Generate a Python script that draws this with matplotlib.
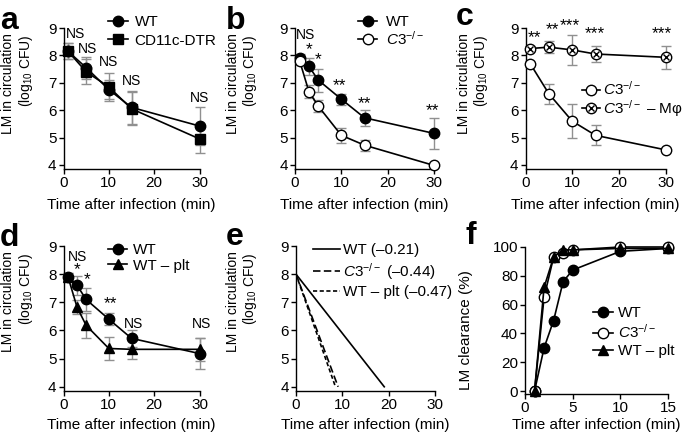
import matplotlib.pyplot as plt
from matplotlib.legend_handler import HandlerTuple

plt.rcParams['font.family'] = ['Liberation Sans', 'DejaVu Sans']
plt.rcParams['mathtext.fontset'] = 'custom'
plt.rcParams['mathtext.rm'] = 'Liberation Sans'
plt.rcParams['mathtext.it'] = 'Liberation Sans:italic'
plt.rcParams['font.size'] = 11

# ---- data ----
# a: WT vs CD11c-DTR
t_a = [1, 5, 10, 15, 30]
a_wt = [8.15, 7.55, 6.75, 6.1, 5.42]
a_wt_err = [0.3, 0.4, 0.35, 0.6, 0.7]
a_dtr = [8.15, 7.4, 6.85, 6.05, 4.95]
a_dtr_err = [0.3, 0.45, 0.5, 0.6, 0.5]
a_sig = ['NS', 'NS', 'NS', 'NS', 'NS']

# b: WT vs C3-/-
t_b = [1, 3, 5, 10, 15, 30]
b_wt = [7.9, 7.6, 7.1, 6.4, 5.72, 5.15]
b_wt_err = [0.15, 0.32, 0.42, 0.2, 0.3, 0.57]
b_c3 = [7.8, 6.68, 6.15, 5.08, 4.72, 3.98]
b_c3_err = [0.12, 0.25, 0.22, 0.27, 0.2, 0.03]
b_sig = ['NS', '*', '*', '**', '**', '**']

# c: C3-/- vs C3-/- minus macrophages
t_c = [1, 5, 10, 15, 30]
c_c3 = [7.7, 6.6, 5.6, 5.08, 4.55]
c_c3_err = [0.03, 0.37, 0.62, 0.37, 0.03]
c_mphi = [8.25, 8.3, 8.2, 8.05, 7.93]
c_mphi_err = [0.08, 0.22, 0.55, 0.3, 0.42]
c_sig = ['**', '**', '***', '***', '***']

# d: WT vs WT minus platelets
t_d = [1, 3, 5, 10, 15, 30]
d_wt = [7.9, 7.6, 7.1, 6.4, 5.72, 5.18]
d_wt_err = [0.15, 0.35, 0.42, 0.22, 0.3, 0.55]
d_plt = [7.9, 6.82, 6.18, 5.36, 5.33, 5.33]
d_plt_err = [0.15, 0.25, 0.45, 0.42, 0.33, 0.42]
d_sig = ['NS', '*', '*', '**', 'NS', 'NS']

# e: fitted clearance slopes
e_names = ['WT', r'$\mathit{C3}^{-/-}$', 'WT – plt']
e_slopes = [-0.21, -0.44, -0.47]
e_start = 8
e_floor = 4

# f: clearance (%)
t_f = [1, 2, 3, 4, 5, 10, 15]
f_wt = [0, 30, 49, 76, 84, 97, 99]
f_c3 = [0, 65, 93, 96, 98, 100, 100]
f_plt = [0, 72, 93, 98, 98, 99, 99]

C3 = r'$\mathit{C3}^{-/-}$'
W, H = 685, 438
fig = plt.figure(figsize=(W / 100, H / 100), dpi=100)


def make_ax(left, top, w, h):
    ax = fig.add_axes([left / W, 1 - (top + h) / H, w / W, h / H])
    for s in ['top', 'right']:
        ax.spines[s].set_visible(False)
    for s in ['left', 'bottom']:
        ax.spines[s].set_linewidth(1.0)
    ax.tick_params(direction='out', length=3.5, width=1.0, pad=1.5, labelsize=11)
    return ax


def time_axes(ax):
    ax.set_xlim(0, 30)
    ax.set_ylim(3.85, 9)
    ax.set_xticks([0, 10, 20, 30])
    ax.set_yticks([4, 5, 6, 7, 8, 9])


def series(ax, x, y, err, marker, mfc):
    ax.errorbar(x, y, yerr=err, fmt='none', ecolor='#909090', elinewidth=1,
                capsize=3.5, capthick=1, zorder=2, clip_on=False)
    line, = ax.plot(x, y, '-', marker=marker, color='k', mfc=mfc, mec='k',
                    ms=7.5, mew=1, lw=1.2, zorder=3, clip_on=False)
    return line


def sig(ax, xs, ys, labels):
    for x, y, s in zip(xs, ys, labels):
        size = 10 if s == 'NS' else 12.5
        ax.text(x, y, s, ha='center', va='center', fontsize=size, clip_on=False)


def ylab(x1, x2, y, text2='(log$_{10}$ CFU)'):
    fig.text(x1 / W, 1 - y[0] / H, 'LM in circulation', rotation=90,
             ha='center', va='center', fontsize=10)
    fig.text(x2 / W, 1 - y[1] / H, text2, rotation=90,
             ha='center', va='center', fontsize=10)


def xlab(ax, y):
    b = ax.get_position()
    fig.text((b.x0 + b.x1) / 2, 1 - y / H, 'Time after infection (min)',
             ha='center', va='center', fontsize=11)


def legend(ax, handles, labels, x, y, hl, pad, sp):
    leg = ax.legend(handles, labels, loc='upper left',
                    bbox_to_anchor=(x / W, 1 - y / H), bbox_transform=fig.transFigure,
                    frameon=False, borderpad=0, borderaxespad=0, handlelength=hl,
                    handletextpad=pad, labelspacing=sp, fontsize=11,
                    handler_map={tuple: HandlerTuple(ndivide=1)})
    return leg


def letter(x, y, s):
    fig.text(x / W, 1 - y / H, s, fontsize=23, fontweight='bold', va='baseline')


# ---- a ----
ax = make_ax(63.5, 28, 136, 141)
time_axes(ax)
l1 = series(ax, t_a, a_wt, a_wt_err, 'o', 'k')
l2 = series(ax, t_a, a_dtr, a_dtr_err, 's', 'k')
sig(ax, [2.7, 5.3, 10, 15, 30], [8.78, 8.22, 7.75, 7.06, 6.45], a_sig)
legend(ax, [l1, l2], ['WT', 'CD11c-DTR'], 108, 15, 1.3, 0.45, 0.3)
ylab(8, 26, (84, 71))
xlab(ax, 205)
letter(0, 29, 'a')

# ---- b ----
ax = make_ax(295, 28, 139, 141)
time_axes(ax)
l1 = series(ax, t_b, b_wt, b_wt_err, 'o', 'k')
l2 = series(ax, t_b, b_c3, b_c3_err, 'o', 'white')
sig(ax, [2.3, 3, 5, 9.7, 15, 29.7], [8.76, 8.2, 7.83, 6.88, 6.25, 6.0], b_sig)
legend(ax, [l1, l2], ['WT', C3], 358, 15, 1.25, 0.6, 0.05)
ylab(233, 250, (84, 71))
xlab(ax, 205)
letter(226, 29, 'b')

# ---- c ----
ax = make_ax(525.5, 28, 140, 141)
time_axes(ax)
l1 = series(ax, t_c, c_c3, c_c3_err, 'o', 'white')
l2 = series(ax, t_c, c_mphi, c_mphi_err, 'o', 'white')
lx, = ax.plot(t_c, c_mphi, 'x', color='k', ms=5, mew=1, zorder=4, clip_on=False)
sig(ax, [2.0, 5.7, 9.5, 14.9, 29.3], [8.65, 8.94, 9.1, 8.78, 8.78], c_sig)
legend(ax, [l1, (l2, lx)], [C3, C3 + ' – Mφ'], 581.7, 80, 1.2, 0.2, 0.02)
ylab(464, 481, (84, 71))
xlab(ax, 205)
letter(456, 25, 'c')

# ---- d ----
ax = make_ax(63.5, 246, 136, 145)
time_axes(ax)
l1 = series(ax, t_d, d_wt, d_wt_err, 'o', 'k')
l2 = series(ax, t_d, d_plt, d_plt_err, '^', 'k')
sig(ax, [3.0, 3.1, 5.3, 10.3, 15.5, 30.4], [8.62, 8.15, 7.79, 6.96, 6.23, 6.23], d_sig)
legend(ax, [l1, l2], ['WT', 'WT – plt'], 108, 243, 1.25, 0.4, 0.1)
ylab(8, 26, (302, 289))
xlab(ax, 425)
letter(0, 246, 'd')

# ---- e ----
ax = make_ax(296, 246, 139, 145)
time_axes(ax)
styles = ['-', (0, (4.5, 2)), (0, (2.5, 1.5))]
handles = []
for slope, ls in zip(e_slopes, styles):
    x_end = (e_floor - e_start) / slope
    h, = ax.plot([0, x_end], [e_start, e_floor], color='k', lw=1.2, ls=ls)
    handles.append(h)
labels = [f'{n} (–{abs(s):.2f})' for n, s in zip(e_names, e_slopes)]
legend(ax, handles, labels, 313, 243, 1.75, 0.2, 0.24)
ylab(233, 250, (302, 289))
xlab(ax, 425)
letter(226, 245, 'e')

# ---- f ----
ax = make_ax(525, 247, 143, 147)
ax.set_xlim(0, 15)
ax.set_ylim(-2, 100)
ax.set_xticks([0, 5, 10, 15])
ax.set_yticks([0, 20, 40, 60, 80, 100])
l1, = ax.plot(t_f, f_wt, '-o', color='k', ms=7.5, lw=1.2, zorder=3, clip_on=False)
l2, = ax.plot(t_f, f_c3, '-o', color='k', mfc='white', ms=7.5, lw=1.2, zorder=3, clip_on=False)
l3, = ax.plot(t_f, f_plt, '-^', color='k', ms=7.5, lw=1.2, zorder=4, clip_on=False)
legend(ax, [l1, l2, l3], ['WT', C3, 'WT – plt'], 593, 306, 1.3, 0.33, 0.2)
fig.text(466 / W, 1 - 330 / H, 'LM clearance (%)', rotation=90,
         ha='center', va='center', fontsize=11)
xlab(ax, 425)
letter(466, 244, 'f')

fig.savefig('out.png', dpi=100)
